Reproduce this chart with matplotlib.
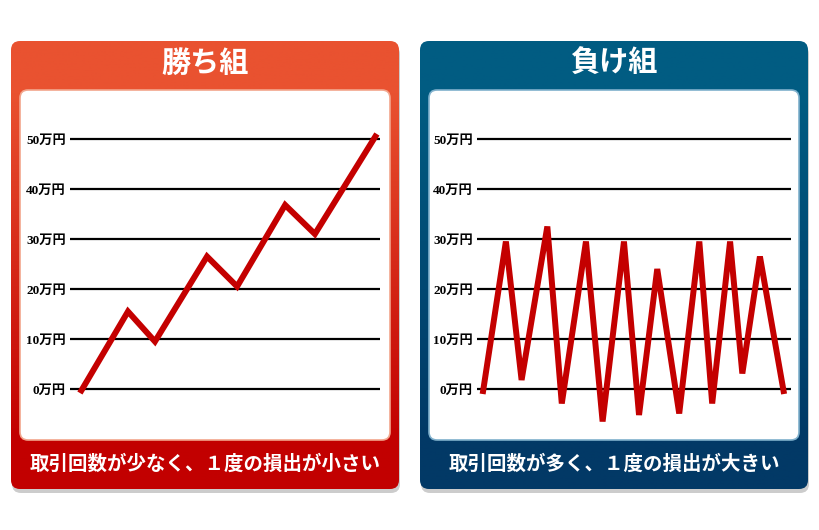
import numpy as np
import matplotlib
matplotlib.use("Agg")
import matplotlib.pyplot as plt
from matplotlib.patches import FancyBboxPatch
from matplotlib.colors import to_rgb

# values in 万円, x is position along the chart (0-100)
win_x = [3.2, 18.7, 27.4, 44.2, 53.9, 69.4, 79.0, 99.0]
win_y = [-0.8, 15.5, 9.5, 26.5, 20.5, 36.8, 31.0, 51.0]
lose_x = [1.8, 9.2, 14.2, 22.4, 27.0, 34.7, 40.0, 46.8, 51.6, 57.4, 64.4, 70.8, 74.9, 80.6, 84.5, 90.1, 97.8]
lose_y = [-1.0, 29.5, 1.8, 32.5, -2.9, 29.5, -6.5, 29.5, -5.2, 24.0, -4.9, 29.5, -2.9, 29.5, 3.1, 26.5, -1.0]
y_ticks = [0, 10, 20, 30, 40, 50]
tick_labels = ["0万円", "10万円", "20万円", "30万円", "40万円", "50万円"]
titles = ["勝ち組", "負け組"]
captions = ["取引回数が少なく、１度の損出が小さい", "取引回数が多く、１度の損出が大きい"]

FONTS = ["Liberation Serif", "Noto Sans CJK JP", "DejaVu Sans"]
W, H = 820, 530

fig = plt.figure(figsize=(8.2, 5.3), dpi=100)
bg = fig.add_axes([0, 0, 1, 1])


def panel(x0, top_c, bot_c, edge_c, title, caption):
    y0, w, h = 41, 388, 448
    shadow = FancyBboxPatch((x0 + 1, y0 + 4), w, h, boxstyle="round,pad=0,rounding_size=9",
                            fc=(0, 0, 0, 0.2), ec="none", zorder=0)
    bg.add_patch(shadow)
    box = FancyBboxPatch((x0, y0), w, h, boxstyle="round,pad=0,rounding_size=9",
                         fc="none", ec="none", zorder=1)
    bg.add_patch(box)
    # vertical gradient, top -> bottom
    t = np.clip(np.linspace(-0.15, 1.15, 300), 0, 1)[:, None, None]
    grad = (1 - t) * np.array(to_rgb(top_c)) + t * np.array(to_rgb(bot_c))
    im = bg.imshow(grad, extent=(x0, x0 + w, y0 + h, y0), aspect="auto", zorder=1)
    im.set_clip_path(box)
    inner = FancyBboxPatch((x0 + 9, 90), 370, 350, boxstyle="round,pad=0,rounding_size=8",
                           fc="white", ec=edge_c, lw=1.2, zorder=2)
    bg.add_patch(inner)
    bg.text(x0 + w / 2, 64, title, color="white", fontsize=21, weight="bold",
            ha="center", va="center", family=FONTS, zorder=3)
    bg.text(x0 + w / 2, 464, caption, color="white", fontsize=14, weight="bold",
            ha="center", va="center", family=FONTS, zorder=3)


panel(11, "#e95230", "#c20000", "#f2a58c", titles[0], captions[0])
panel(420, "#015c82", "#023966", "#7fb0cc", titles[1], captions[1])
bg.set_xlim(0, W)
bg.set_ylim(H, 0)
bg.axis("off")


def chart(px0, px1, xs, ys):
    ax = fig.add_axes([px0 / W, (H - 440) / H, (px1 - px0) / W, 350 / H])
    ax.set_xlim(0, 100)
    ax.set_ylim(-10.2, 59.8)
    for v in y_ticks:
        ax.axhline(v, color="black", lw=1.6, zorder=1)
    ax.plot(xs, ys, color="#c40000", lw=4.3, solid_joinstyle="miter",
            solid_capstyle="butt", zorder=2)
    ax.set_yticks(y_ticks)
    ax.set_yticklabels(tick_labels, fontsize=9.5, weight="bold", family=FONTS)
    ax.tick_params(axis="y", length=0, pad=3)
    ax.set_xticks([])
    for s in ax.spines.values():
        s.set_visible(False)
    ax.patch.set_alpha(0)
    return ax


chart(70, 380, win_x, win_y)
chart(477, 791, lose_x, lose_y)

fig.savefig("out.png", dpi=100)
